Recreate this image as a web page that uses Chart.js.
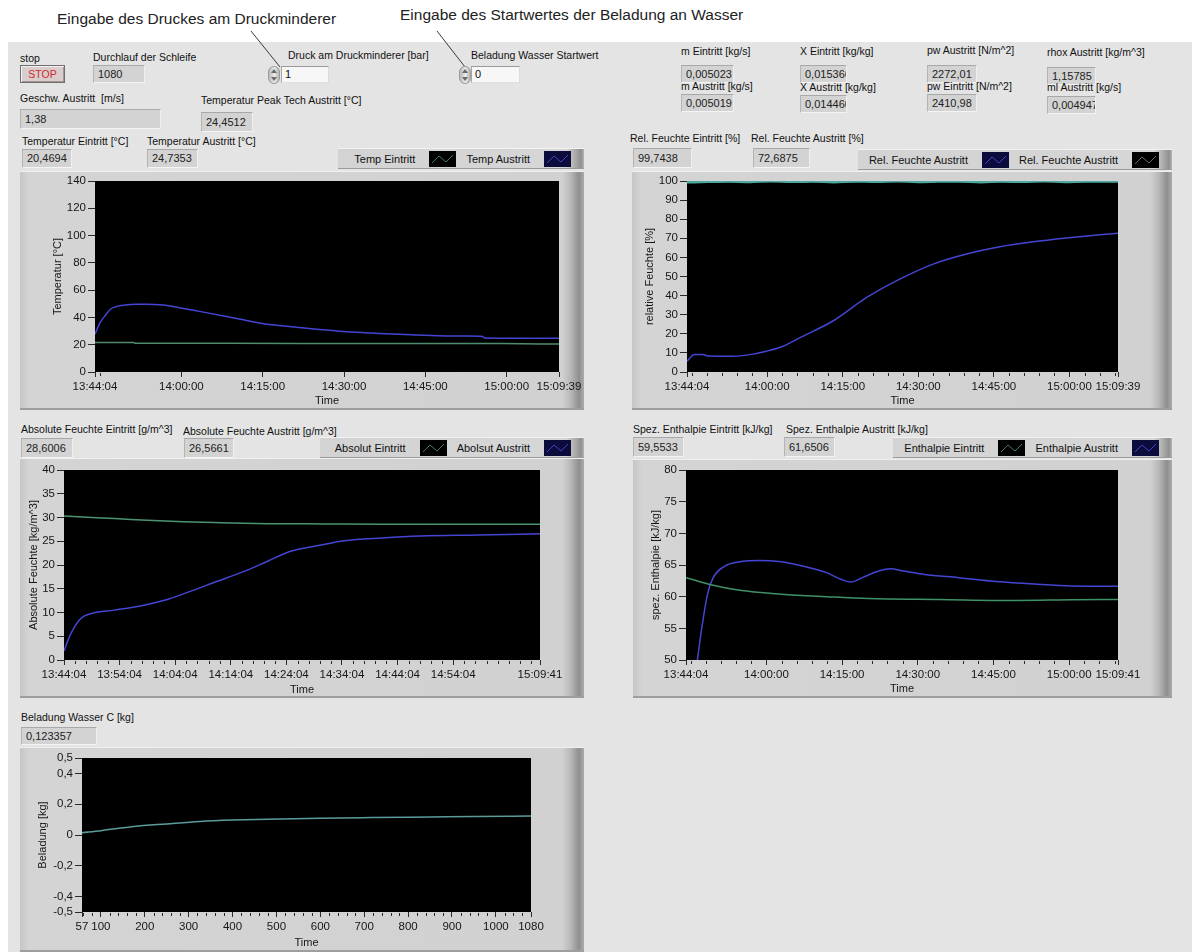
<!DOCTYPE html>
<html lang="de">
<head>
<meta charset="utf-8">
<title>Feuchtemessung – Frontpanel</title>
<script src="https://cdn.jsdelivr.net/npm/chart.js@4.4.1/dist/chart.umd.min.js"></script>
<style>
html,body{margin:0;padding:0;}
body{width:1192px;height:952px;position:relative;overflow:hidden;background:#fff;font-family:'Liberation Sans',Arial,sans-serif;color:#111;}
#panel{position:absolute;left:8px;top:42px;right:0;bottom:0;background:#e4e4e4;}
.note{position:absolute;font-size:15.5px;color:#222;white-space:nowrap;line-height:18px;}
.lbl{position:absolute;font-size:10.5px;white-space:nowrap;line-height:12px;color:#111;}
.ind{position:absolute;box-sizing:border-box;background:#d3d3d3;border-top:1px solid #a8a8a8;border-left:1px solid #b4b4b4;border-bottom:1px solid #f4f4f4;border-right:1px solid #f0f0f0;font-size:11px;padding-left:4px;overflow:hidden;white-space:nowrap;color:#222;}
.ctl{position:absolute;box-sizing:border-box;background:#f7f7f7;border-top:1px solid #9a9a9a;border-left:1px solid #a8a8a8;border-bottom:1px solid #e0e0e0;border-right:1px solid #dcdcdc;font-size:11px;padding-left:3px;white-space:nowrap;color:#111;}
.spin{position:absolute;box-sizing:border-box;width:12px;height:18px;border-radius:6px;border:1px solid #9b9b9b;background:linear-gradient(to right,#b9b9b9,#ececec 55%,#b3b3b3);}
.spin i{position:absolute;left:2px;width:0;height:0;border-left:3px solid transparent;border-right:3px solid transparent;}
.spin i.up{top:2px;border-bottom:4px solid #6a6a6a;}
.spin i.dn{top:10px;border-top:4px solid #6a6a6a;}
#stopBtn{position:absolute;left:20px;top:65px;width:45px;height:18px;box-sizing:border-box;background:#d9cdcd;border:1px solid #6e6e6e;box-shadow:inset 1px 1px 0 #f6f2f2,inset -1px -1px 0 #a39494;color:#d22a2a;font-size:10.5px;text-align:center;line-height:16px;}
.frame{position:absolute;box-sizing:border-box;border-top:1px solid #efefef;border-bottom:2px solid #9e9e9e;
  background:linear-gradient(to right,#c6c6c6 0,#d4d4d4 9px,#d1d1d1 calc(100% - 22px),#b7b7b7 calc(100% - 13px),#8e8e8e calc(100% - 5px),#ababab 100%);}
.frame canvas{position:absolute;left:0;top:0;}
.legend{position:absolute;box-sizing:border-box;height:21px;display:flex;align-items:center;justify-content:flex-end;padding-right:13px;
  border-top:1px solid #f2f2f2;border-bottom:1px solid #9c9c9c;font-size:11px;color:#111;
  background:linear-gradient(to right,#d3d3d3 0,#d6d6d6 calc(100% - 18px),#a8a8a8 calc(100% - 8px),#8f8f8f calc(100% - 3px),#b5b5b5 100%);}
.legend span{white-space:nowrap;}
.legend svg{display:block;margin-left:14px;margin-right:10px;}
.legend svg:last-child{margin-right:0;}
</style>
</head>
<body>
<div id="panel"></div>

<!-- annotations above the panel -->
<div class="note" style="left:57px;top:10px;">Eingabe des Druckes am Druckminderer</div>
<div class="note" style="left:400px;top:6px;">Eingabe des Startwertes der Beladung an Wasser</div>
<svg style="position:absolute;left:0;top:0;" width="1192" height="952">
  <line x1="251" y1="31" x2="280" y2="67" stroke="#3a3a3a" stroke-width="1"/>
  <line x1="437" y1="31" x2="465" y2="67" stroke="#3a3a3a" stroke-width="1"/>
</svg>

<!-- controls and indicators, upper left -->
<div class="lbl" style="left:20px;top:52px;">stop</div>
<div id="stopBtn">STOP</div>
<div class="lbl" style="left:93px;top:51px;">Durchlauf der Schleife</div>
<div class="ind" style="left:93px;top:65px;width:52px;height:18px;line-height:16px;">1080</div>
<div class="lbl" style="left:288px;top:49px;">Druck am Druckminderer [bar]</div>
<div class="spin" style="left:268px;top:66px;"><i class="up"></i><i class="dn"></i></div>
<div class="ctl" style="left:281px;top:66px;width:48px;height:17px;line-height:15px;">1</div>
<div class="lbl" style="left:471px;top:49px;">Beladung Wasser Startwert</div>
<div class="spin" style="left:459px;top:66px;"><i class="up"></i><i class="dn"></i></div>
<div class="ctl" style="left:471px;top:66px;width:49px;height:17px;line-height:15px;">0</div>

<div class="lbl" style="left:20px;top:92px;">Geschw. Austritt &nbsp;[m/s]</div>
<div class="ind" style="left:20px;top:109px;width:141px;height:20px;line-height:18px;">1,38</div>
<div class="lbl" style="left:201px;top:94px;">Temperatur Peak Tech Austritt [°C]</div>
<div class="ind" style="left:201px;top:112px;width:52px;height:20px;line-height:18px;">24,4512</div>

<!-- indicators, upper right -->
<div class="lbl" style="left:681px;top:45px;">m Eintritt [kg/s]</div>
<div class="ind" style="left:681px;top:65px;width:53px;height:18px;line-height:16px;">0,005023</div>
<div class="lbl" style="left:681px;top:80px;">m Austritt [kg/s]</div>
<div class="ind" style="left:681px;top:94px;width:53px;height:18px;line-height:16px;">0,005019</div>
<div class="lbl" style="left:800px;top:45px;">X Eintritt [kg/kg]</div>
<div class="ind" style="left:800px;top:65px;width:47px;height:18px;line-height:16px;">0,015366</div>
<div class="lbl" style="left:800px;top:81px;">X Austritt [kg/kg]</div>
<div class="ind" style="left:800px;top:95px;width:47px;height:18px;line-height:16px;">0,014460</div>
<div class="lbl" style="left:927px;top:44px;">pw Austritt [N/m^2]</div>
<div class="ind" style="left:927px;top:65px;width:50px;height:18px;line-height:16px;">2272,01</div>
<div class="lbl" style="left:927px;top:80px;">pw Eintritt [N/m^2]</div>
<div class="ind" style="left:927px;top:94px;width:50px;height:18px;line-height:16px;">2410,98</div>
<div class="lbl" style="left:1047px;top:46px;">rhox Austritt [kg/m^3]</div>
<div class="ind" style="left:1047px;top:67px;width:49px;height:18px;line-height:16px;">1,15785</div>
<div class="lbl" style="left:1047px;top:81px;">ml Austritt [kg/s]</div>
<div class="ind" style="left:1047px;top:96px;width:49px;height:18px;line-height:16px;">0,004947</div>

<!-- Temperatur -->
<div class="lbl" style="left:22px;top:135px;">Temperatur Eintritt [°C]</div>
<div class="ind" style="left:22px;top:149px;width:50px;height:19px;line-height:17px;">20,4694</div>
<div class="lbl" style="left:147px;top:135px;">Temperatur Austritt [°C]</div>
<div class="ind" style="left:147px;top:149px;width:51px;height:19px;line-height:17px;">24,7353</div>
<div class="legend" id="legTemp" style="left:338px;top:148px;width:246px;"></div>
<div class="frame" style="left:20px;top:171px;width:564px;height:239px;"><canvas id="cTemp" width="564" height="239"></canvas></div>

<!-- Relative Feuchte -->
<div class="lbl" style="left:630px;top:132px;">Rel. Feuchte Eintritt [%]</div>
<div class="ind" style="left:633px;top:148px;width:59px;height:20px;line-height:18px;">99,7438</div>
<div class="lbl" style="left:751px;top:132px;">Rel. Feuchte Austritt [%]</div>
<div class="ind" style="left:753px;top:148px;width:57px;height:20px;line-height:18px;">72,6875</div>
<div class="legend" id="legRf" style="left:858px;top:149px;width:314px;"></div>
<div class="frame" style="left:632px;top:171px;width:540px;height:239px;"><canvas id="cRf" width="540" height="239"></canvas></div>

<!-- Absolute Feuchte -->
<div class="lbl" style="left:21px;top:423px;">Absolute Feuchte Eintritt [g/m^3]</div>
<div class="ind" style="left:21px;top:438px;width:52px;height:20px;line-height:18px;">28,6006</div>
<div class="lbl" style="left:183px;top:425px;">Absolute Feuchte Austritt [g/m^3]</div>
<div class="ind" style="left:184px;top:438px;width:50px;height:20px;line-height:18px;">26,5661</div>
<div class="legend" id="legAbs" style="left:320px;top:437px;width:264px;"></div>
<div class="frame" style="left:20px;top:458px;width:564px;height:240px;"><canvas id="cAbs" width="564" height="240"></canvas></div>

<!-- Enthalpie -->
<div class="lbl" style="left:633px;top:423px;">Spez. Enthalpie Eintritt [kJ/kg]</div>
<div class="ind" style="left:633px;top:437px;width:51px;height:20px;line-height:18px;">59,5533</div>
<div class="lbl" style="left:786px;top:423px;">Spez. Enthalpie Austritt [kJ/kg]</div>
<div class="ind" style="left:784px;top:437px;width:51px;height:20px;line-height:18px;">61,6506</div>
<div class="legend" id="legEnth" style="left:893px;top:437px;width:279px;"></div>
<div class="frame" style="left:633px;top:459px;width:539px;height:239px;"><canvas id="cEnth" width="539" height="239"></canvas></div>

<!-- Beladung -->
<div class="lbl" style="left:21px;top:711px;">Beladung Wasser C [kg]</div>
<div class="ind" style="left:21px;top:727px;width:76px;height:18px;line-height:16px;">0,123357</div>
<div class="frame" style="left:20px;top:747px;width:564px;height:205px;"><canvas id="cBel" width="564" height="205"></canvas></div>

<script>
// ---- time axes (hh:mm:ss) ----
const startTime = '13:44:04';
const tempTickLabels = ['13:44:04', '14:00:00', '14:15:00', '14:30:00', '14:45:00', '15:00:00', '15:09:39'];
const tempMinorLabels = ['13:45:00'];
const rfTickLabels = ['13:44:04', '14:00:00', '14:15:00', '14:30:00', '14:45:00', '15:00:00', '15:09:39'];
const absTickLabels = ['13:44:04', '13:54:04', '14:04:04', '14:14:04', '14:24:04', '14:34:04', '14:44:04', '14:54:04', '15:09:41'];
const enthTickLabels = ['13:44:04', '14:00:00', '14:15:00', '14:30:00', '14:45:00', '15:00:00', '15:09:41'];
const belTicks = [57, 100, 200, 300, 400, 500, 600, 700, 800, 900, 1000, 1080];
const belYTicks = [-0.5, -0.4, -0.2, 0, 0.2, 0.4, 0.5];

// ---- series: elapsed seconds since start / value ----
const tempEinT = [0, 200, 430, 445, 1500, 3000, 4500, 5135];
const tempEinV = [21.6, 21.6, 21.6, 21.0, 21.0, 20.9, 20.8, 20.47];
const tempAusT = [0, 58, 120, 173, 230, 289, 360, 439, 580, 717, 850, 948, 1214, 1596, 1850, 2174, 2567, 2753, 3146, 3527, 3800, 4100, 4290, 4310, 4700, 5135];
const tempAusV = [27.7, 36.3, 42.0, 46.2, 47.8, 48.7, 49.3, 49.6, 49.6, 49.3, 48.2, 46.9, 43.7, 38.8, 35.6, 33.1, 30.7, 29.6, 28.2, 27.2, 26.6, 26.3, 26.1, 25.0, 24.8, 24.74];

const rfEinT = [0, 250, 500, 750, 1000, 1250, 1500, 1750, 2000, 2250, 2500, 2750, 3000, 3250, 3500, 3750, 4000, 4250, 4500, 4750, 5135];
const rfEinV = [99.3, 99.6, 99.8, 99.5, 99.9, 99.6, 99.7, 99.4, 99.8, 99.6, 99.9, 99.5, 99.7, 99.8, 99.4, 99.7, 99.6, 99.9, 99.5, 99.8, 99.74];
const rfAusT = [0, 88, 188, 247, 546, 746, 945, 1144, 1341, 1738, 2137, 2534, 2932, 3330, 3727, 4125, 4523, 4921, 5135];
const rfAusV = [5.6, 9.1, 9.1, 8.4, 8.3, 9.1, 10.9, 13.5, 17.9, 26.7, 38.9, 48.6, 56.5, 61.8, 65.6, 68.2, 70.2, 71.9, 72.69];

const absEinT = [0, 300, 545, 900, 1288, 1700, 2197, 2800, 3436, 4300, 5137];
const absEinV = [30.3, 30.0, 29.8, 29.4, 29.1, 28.9, 28.7, 28.65, 28.6, 28.6, 28.6];
const absAusT = [0, 70, 174, 297, 545, 875, 1123, 1371, 1618, 1949, 2197, 2445, 2775, 3022, 3436, 3849, 4468, 5137];
const absAusV = [1.9, 5.4, 8.6, 9.8, 10.5, 11.6, 12.8, 14.5, 16.3, 18.7, 20.8, 22.9, 24.2, 25.1, 25.7, 26.1, 26.3, 26.57];

const enthEinT = [0, 323, 638, 1131, 1670, 2164, 3018, 3916, 4590, 5137];
const enthEinV = [63.0, 61.8, 61.0, 60.4, 60.0, 59.7, 59.55, 59.4, 59.5, 59.55];
const enthAusT = [0, 135, 188, 256, 323, 458, 638, 863, 1131, 1401, 1670, 1850, 1960, 2097, 2300, 2436, 2569, 2837, 3242, 3691, 4140, 4590, 5137];
const enthAusV = [38.0, 50.0, 55.1, 60.4, 63.0, 64.8, 65.5, 65.7, 65.5, 64.8, 63.8, 62.7, 62.3, 63.0, 64.1, 64.4, 64.1, 63.5, 63.0, 62.4, 62.0, 61.7, 61.65];

const belX = [57, 100, 175, 250, 326, 400, 481, 600, 715, 850, 950, 1080];
const belV = [0.015, 0.028, 0.055, 0.072, 0.088, 0.097, 0.103, 0.109, 0.113, 0.117, 0.120, 0.1234];

// ---- helpers ----
const FONT = "'Liberation Sans', Arial, sans-serif";
const INK = '#161616';
const BLUE = '#4545d4';

function toSec(s) { const p = s.split(':').map(Number); return p[0] * 3600 + p[1] * 60 + p[2]; }
function elapsed(s) { return toSec(s) - toSec(startTime); }
function stepMarks(from, to, step, skip) {
  const out = [];
  for (let v = toSec(from); v <= toSec(to); v += step) {
    const e = v - toSec(startTime);
    if (!skip.includes(e)) out.push(e);
  }
  return out;
}
const comma = v => String(Math.round(v * 100) / 100).replace('.', ',');

const plotBg = {
  id: 'plotBg',
  beforeDraw(chart) {
    const a = chart.chartArea, c = chart.ctx;
    c.save(); c.fillStyle = '#000'; c.fillRect(a.left, a.top, a.width, a.height); c.restore();
  }
};
const minorTicks = {
  id: 'minorTicks',
  afterDraw(chart, args, opts) {
    const xs = chart.scales.x, a = chart.chartArea, c = chart.ctx;
    c.save(); c.strokeStyle = '#2a2a2a'; c.lineWidth = 1;
    (opts.values || []).forEach(v => {
      const px = Math.round(xs.getPixelForValue(v)) + 0.5;
      c.beginPath(); c.moveTo(px, a.bottom + 1); c.lineTo(px, a.bottom + 4); c.stroke();
    });
    c.restore();
  }
};

function lvChart(id, o) {
  const tickFont = { family: FONT, size: 11.5 };
  return new Chart(document.getElementById(id), {
    type: 'line',
    data: {
      datasets: o.series.map(s => ({
        label: s.label,
        data: s.x.map((x, i) => ({ x: x, y: s.y[i] })),
        borderColor: s.color,
        borderWidth: s.width || 1.5,
        pointRadius: 0,
        cubicInterpolationMode: 'monotone',
        fill: false
      }))
    },
    options: {
      responsive: false,
      animation: false,
      events: [],
      layout: { padding: o.pad },
      plugins: { legend: { display: false }, tooltip: { enabled: false }, minorTicks: { values: o.minor } },
      scales: {
        x: {
          type: 'linear', min: o.xMin, max: o.xMax,
          afterBuildTicks: s => { s.ticks = o.xTicks.map(v => ({ value: v })); },
          afterFit: s => { s.height = o.xh; s.paddingLeft = 0; s.paddingRight = 0; },
          ticks: { autoSkip: false, maxRotation: 0, minRotation: 0, padding: 3, color: INK, font: tickFont,
                   callback: (v, i) => o.xLabels[i] },
          grid: { drawOnChartArea: false, drawTicks: true, tickLength: 5, color: '#2a2a2a' },
          border: { display: false },
          title: { display: true, text: 'Time', color: INK, font: { family: FONT, size: 11 }, padding: { top: 0, bottom: o.tPad } }
        },
        y: {
          min: o.yMin, max: o.yMax,
          afterBuildTicks: s => { s.ticks = o.yTicks.map(v => ({ value: v })); },
          afterFit: s => { s.width = o.yw; s.paddingTop = 0; s.paddingBottom = 0; },
          ticks: { padding: 2, color: INK, font: tickFont, callback: v => comma(v) },
          grid: { drawOnChartArea: false, drawTicks: true, tickLength: 7, color: '#2a2a2a' },
          border: { display: false },
          title: { display: true, text: o.yTitle, color: INK, font: { family: FONT, size: 11 }, padding: { top: 0, bottom: 0 } }
        }
      }
    },
    plugins: [plotBg, minorTicks]
  });
}

function range(a, b, s) { const r = []; for (let v = a; v <= b + 1e-9; v += s) r.push(Math.round(v * 1000) / 1000); return r; }

function legend(id, entries) {
  const el = document.getElementById(id);
  entries.forEach(e => {
    const t = document.createElement('span'); t.textContent = e.label; el.appendChild(t);
    el.insertAdjacentHTML('beforeend',
      '<svg width="27" height="16"><rect width="27" height="16" fill="' + e.bg + '"/>' +
      '<polyline points="3,12 10,5 17,11 24,4" fill="none" stroke="' + e.line + '" stroke-width="1"/></svg>');
  });
}

// ---- Temperatur ----
const tempTicks = tempTickLabels.map(elapsed);
lvChart('cTemp', {
  series: [
    { label: 'Temp Eintritt', x: tempEinT, y: tempEinV, color: '#4f8c6d' },
    { label: 'Temp Austritt', x: tempAusT, y: tempAusV, color: BLUE }
  ],
  xMin: 0, xMax: tempTicks[tempTicks.length - 1], xTicks: tempTicks, xLabels: tempTickLabels,
  minor: tempMinorLabels.map(elapsed),
  yMin: 0, yMax: 140, yTicks: range(0, 140, 20), yTitle: 'Temperatur [°C]',
  pad: { left: 31, top: 9, right: 25, bottom: 0 }, yw: 44, xh: 39, tPad: 3
});
legend('legTemp', [
  { label: 'Temp Eintritt', bg: '#000', line: '#4a7a5c' },
  { label: 'Temp Austritt', bg: '#0b0b3c', line: '#4444c4' }
]);

// ---- Relative Feuchte ----
const rfTicks = rfTickLabels.map(elapsed);
lvChart('cRf', {
  series: [
    { label: 'Rel. Feuchte Eintritt', x: rfEinT, y: rfEinV, color: '#4ea89e', width: 2.5 },
    { label: 'Rel. Feuchte Austritt', x: rfAusT, y: rfAusV, color: BLUE }
  ],
  xMin: 0, xMax: rfTicks[rfTicks.length - 1], xTicks: rfTicks, xLabels: rfTickLabels,
  minor: stepMarks('13:45:00', '15:09:00', 180, rfTicks),
  yMin: 0, yMax: 100, yTicks: range(0, 100, 10), yTitle: 'relative Feuchte [%]',
  pad: { left: 11, top: 9, right: 54, bottom: 0 }, yw: 44, xh: 39, tPad: 3
});
legend('legRf', [
  { label: 'Rel. Feuchte Austritt', bg: '#0b0b3c', line: '#4444c4' },
  { label: 'Rel. Feuchte Austritt', bg: '#000', line: '#6a6a6a' }
]);

// ---- Absolute Feuchte ----
const absTicks = absTickLabels.map(elapsed);
lvChart('cAbs', {
  series: [
    { label: 'Absolut Eintritt', x: absEinT, y: absEinV, color: '#4b9472' },
    { label: 'Abolsut Austritt', x: absAusT, y: absAusV, color: BLUE }
  ],
  xMin: 0, xMax: absTicks[absTicks.length - 1], xTicks: absTicks, xLabels: absTickLabels,
  minor: stepMarks('13:46:04', '15:08:04', 120, absTicks),
  yMin: 0, yMax: 40, yTicks: range(0, 40, 5), yTitle: 'Absolute Feuchte [kg/m^3]',
  pad: { left: 7, top: 11, right: 44, bottom: 0 }, yw: 37, xh: 39, tPad: 2
});
legend('legAbs', [
  { label: 'Absolut Eintritt', bg: '#000', line: '#4a7a5c' },
  { label: 'Abolsut Austritt', bg: '#0b0b3c', line: '#4444c4' }
]);

// ---- Enthalpie ----
const enthTicks = enthTickLabels.map(elapsed);
lvChart('cEnth', {
  series: [
    { label: 'Enthalpie Eintritt', x: enthEinT, y: enthEinV, color: '#3f9166' },
    { label: 'Enthalpie Austritt', x: enthAusT, y: enthAusV, color: BLUE }
  ],
  xMin: 0, xMax: enthTicks[enthTicks.length - 1], xTicks: enthTicks, xLabels: enthTickLabels,
  minor: stepMarks('13:45:00', '15:09:00', 180, enthTicks),
  yMin: 50, yMax: 80, yTicks: range(50, 80, 5), yTitle: 'spez. Enthalpie [kJ/kg]',
  pad: { left: 16, top: 10, right: 54, bottom: 0 }, yw: 37, xh: 39, tPad: 3
});
legend('legEnth', [
  { label: 'Enthalpie Eintritt', bg: '#000', line: '#4a7a5c' },
  { label: 'Enthalpie Austritt', bg: '#0b0b3c', line: '#4444c4' }
]);

// ---- Beladung ----
const belMinor = range(60, 1060, 20).filter(v => v % 100 !== 0);
lvChart('cBel', {
  series: [{ label: 'Beladung', x: belX, y: belV, color: '#5b9c9a' }],
  xMin: belTicks[0], xMax: belTicks[belTicks.length - 1], xTicks: belTicks, xLabels: belTicks.map(String),
  minor: belMinor,
  yMin: -0.5, yMax: 0.5, yTicks: belYTicks, yTitle: 'Beladung [kg]',
  pad: { left: 16, top: 10, right: 53, bottom: 0 }, yw: 46, xh: 41, tPad: 3
});
</script>
</body>
</html>
